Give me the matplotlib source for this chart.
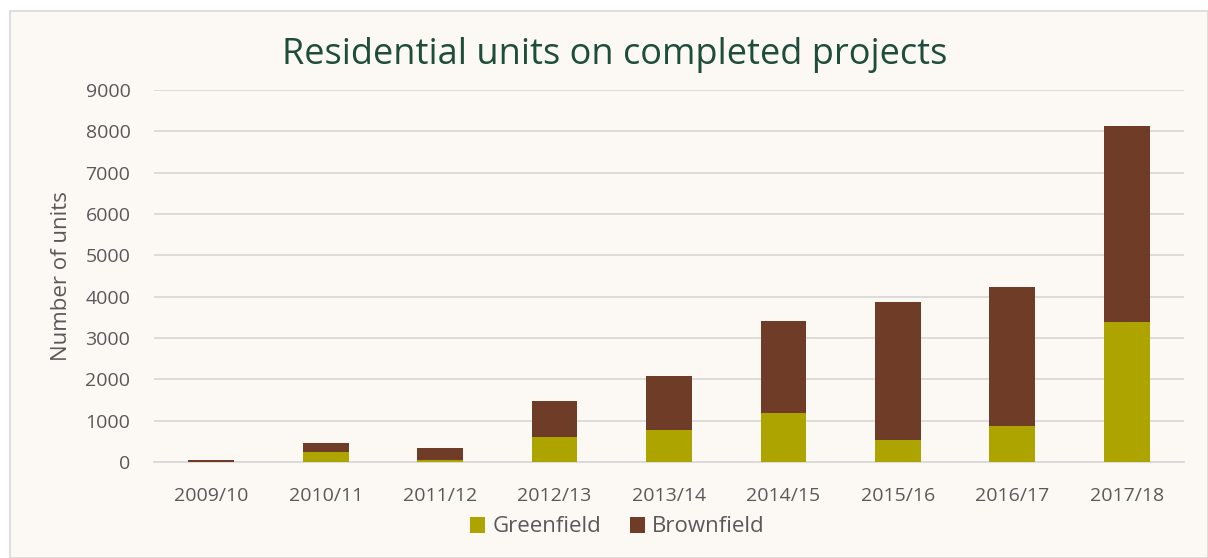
import matplotlib.pyplot as plt
import numpy as np

# Data
years = ['2009/10', '2010/11', '2011/12', '2012/13', '2013/14',
         '2014/15', '2015/16', '2016/17', '2017/18']
greenfield = [10, 250, 50, 600, 780, 1190, 530, 870, 3390]
brownfield = [50, 220, 300, 880, 1300, 2220, 3340, 3370, 4750]
y_ticks = [0, 1000, 2000, 3000, 4000, 5000, 6000, 7000, 8000, 9000]

green_col = '#ADA400'
brown_col = '#6F3C28'
bg_col = '#FCF9F4'
text_col = '#595959'

plt.rcParams['font.family'] = ['Open Sans', 'DejaVu Sans']

fig = plt.figure(figsize=(12.08, 5.58), dpi=100, facecolor='white')
# light frame around the chart area
frame = plt.Rectangle((10 / 1208, 0), 1 - 10 / 1208, 1 - 11 / 558,
                      transform=fig.transFigure, facecolor=bg_col,
                      edgecolor='#D9D9D9', linewidth=1.2, zorder=-10)
fig.patches.append(frame)

ax = fig.add_axes([154 / 1208, 1 - 462 / 558, (1184 - 154) / 1208, (462 - 90) / 558])
ax.patch.set_alpha(0)

x = np.arange(len(years))
ax.bar(x, greenfield, width=0.4, color=green_col, label='Greenfield', zorder=3)
ax.bar(x, brownfield, width=0.4, bottom=greenfield, color=brown_col,
       label='Brownfield', zorder=3)

ax.set_xlim(-0.5, len(years) - 0.5)
ax.set_ylim(0, 9000)
ax.set_yticks(y_ticks)
ax.set_yticklabels([str(t) for t in y_ticks])
ax.set_xticks(x)
ax.set_xticklabels(years)
ax.tick_params(length=0, labelsize=14, colors=text_col)
ax.tick_params(axis='x', pad=18)
ax.tick_params(axis='y', pad=17)
ax.grid(axis='y', color='#D9D9D9', linewidth=1.3, zorder=0)
for side in ['left', 'right', 'top']:
    ax.spines[side].set_visible(False)
ax.spines['bottom'].set_color('#D9D9D9')
ax.spines['bottom'].set_linewidth(1.3)

ax.set_ylabel('Number of units', fontsize=16, color=text_col, labelpad=10)

fig.text(0.5085, 1 - 55 / 558, 'Residential units on completed projects',
         ha='center', va='center', fontsize=26, color='#1E4D3B')

fig.legend(loc='center', bbox_to_anchor=(0.511, 1 - 527 / 558), ncol=2,
           frameon=False, fontsize=16, handlelength=0.7, handleheight=0.7,
           handletextpad=0.3, columnspacing=1.3, labelcolor=text_col)

fig.savefig('out.png', dpi=100, facecolor='white')
